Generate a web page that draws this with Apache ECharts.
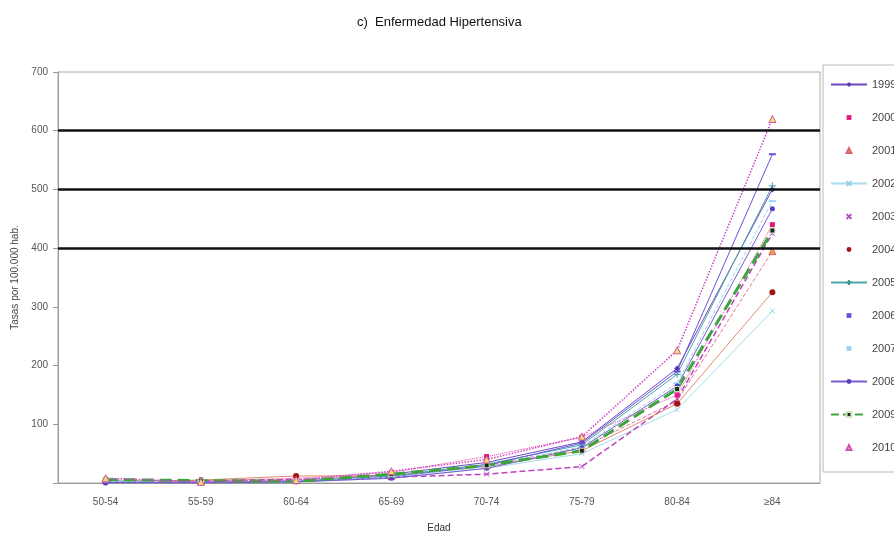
<!DOCTYPE html>
<html>
<head>
<meta charset="utf-8">
<script src="https://cdn.jsdelivr.net/npm/echarts@6/dist/echarts.min.js"></script>
<style>
  html, body { margin: 0; padding: 0; background: #fff; }
  #chart { width: 894px; height: 538px; }
</style>
</head>
<body>
<div id="chart"></div>
<script>
// age groups on the x axis
var edades = ['50-54', '55-59', '60-64', '65-69', '70-74', '75-79', '80-84', '\u226584'];
var anios = ['1999', '2000', '2001', '2002', '2003', '2004', '2005', '2006', '2007', '2008', '2009', '2010'];

// rates per 100.000, one list per year
var t1999 = [3, 2, 3, 15, 35, 70, 195, 500];
var t2000 = [2, 4, 8, 18, 45, 78, 150, 440];
var t2001 = [5, 3, 5, 12, 30, 60, 140, 395];
var t2002 = [4, 3, 2, 8, 25, 50, 125, 293];
var t2003 = [3, 4, 6, 10, 15, 28, 143, 425];
var t2004 = [2, 5, 12, 12, 28, 55, 135, 325];
var t2005 = [2, 1, 3, 12, 32, 65, 185, 506];
var t2006 = [1, 0, 2, 10, 30, 68, 190, 560];
var t2007 = [3, 2, 4, 10, 28, 62, 170, 480];
var t2008 = [0, 1, 2, 8, 25, 60, 165, 467];
var t2009 = [6, 4, 3, 15, 30, 55, 160, 430];
var t2010 = [8, 2, 5, 20, 40, 79, 226, 620];

var lineasNegras = [400, 500, 600];

var cruz = 'path://M0,0L10,10M10,0L0,10';
var mas = 'path://M5,0L5,10M0,5L10,5';

function serie(nombre, datos, color, tipoLinea, ancho, simbolo, tam, simColor, borde) {
  return {
    name: nombre,
    type: 'line',
    data: datos,
    symbol: simbolo,
    symbolSize: tam,
    showAllSymbol: true,
    lineStyle: { color: color, type: tipoLinea, width: ancho },
    itemStyle: borde ? { color: simColor, borderColor: borde, borderWidth: 1 } : { color: simColor },
    z: 3
  };
}

var series = [
  serie(anios[0], t1999, '#7047c4', 'solid', 1, 'diamond', 6, '#5a35b0'),
  serie(anios[1], t2000, '#e8409a', 'dotted', 1, 'rect', 5, '#e3177f'),
  serie(anios[2], t2001, '#e8709a', 'dashed', 1, 'triangle', 7, '#f0a040', '#e06070'),
  serie(anios[3], t2002, '#a8dcec', 'solid', 1, cruz, 5, '#8fd3ea', '#8fd3ea'),
  serie(anios[4], t2003, '#c040c0', 'dashed', 1.5, cruz, 5, '#b050c0', '#b050c0'),
  serie(anios[5], t2004, '#e08870', 'solid', 1, 'circle', 6, '#a31515'),
  serie(anios[6], t2005, '#4aa8a8', 'solid', 1, mas, 7, '#3a9a9a', '#3a9a9a'),
  serie(anios[7], t2006, '#6a52d6', 'solid', 1, 'rect', [7, 2], '#6a52d6'),
  serie(anios[8], t2007, '#9ad0f0', 'dashed', 1, 'rect', [7, 2], '#9ad0f0'),
  serie(anios[9], t2008, '#7a5ad0', 'solid', 1, 'circle', 5, '#5a3fc0'),
  serie(anios[10], t2009, '#3ca63c', 'dashed', 3, 'rect', 5, '#222222', '#c8e8c0'),
  serie(anios[11], t2010, '#d040c8', 'dotted', 1.5, 'triangle', 7, '#f6e060', '#d050b0')
];

// black reference lines across the plot
series[0].markLine = {
  silent: true,
  symbol: 'none',
  label: { show: false },
  lineStyle: { color: '#111', type: 'solid', width: 2.5 },
  data: lineasNegras.map(function (v) { return { yAxis: v }; })
};

// legend entries that show only the marker
var sinLinea = ['2000', '2001', '2003', '2004', '2006', '2007', '2010'];
var leyenda = anios.map(function (a) {
  return sinLinea.indexOf(a) >= 0 ? { name: a, lineStyle: { width: 0 } } : { name: a };
});

var chart = echarts.init(document.getElementById('chart'));
chart.setOption({
  animation: false,
  backgroundColor: '#fff',
  textStyle: { fontFamily: 'Liberation Sans, Arial, sans-serif' },
  title: {
    text: 'c)  Enfermedad Hipertensiva',
    left: 352,
    top: 11,
    textStyle: { fontSize: 13, fontWeight: 'normal', color: '#111' }
  },
  legend: {
    orient: 'vertical',
    left: 823,
    top: 65,
    padding: [14, 10, 19, 7],
    itemWidth: 36,
    itemHeight: 6,
    itemGap: 22,
    backgroundColor: '#fff',
    borderColor: '#b8b8b8',
    borderWidth: 1,
    textStyle: { fontSize: 11, color: '#444' },
    data: leyenda
  },
  grid: {
    left: 58, right: 74, top: 72, bottom: 51,
    show: true, borderColor: '#aaa', borderWidth: 1
  },
  xAxis: {
    type: 'category',
    data: edades,
    boundaryGap: true,
    name: 'Edad',
    nameLocation: 'middle',
    nameGap: 40,
    nameTextStyle: { fontSize: 10, color: '#333' },
    axisLine: { lineStyle: { color: '#999' } },
    axisTick: { length: 4, lineStyle: { color: '#999' } },
    axisLabel: { fontSize: 10, color: '#555', margin: 14 }
  },
  yAxis: {
    type: 'value',
    min: 0,
    max: 700,
    interval: 100,
    name: 'Tasas por 100.000 hab.',
    nameLocation: 'middle',
    nameGap: 36,
    nameTextStyle: { fontSize: 10, color: '#444' },
    axisLine: { show: true, lineStyle: { color: '#999' } },
    axisTick: { show: true, length: 5, lineStyle: { color: '#999' } },
    axisLabel: {
      fontSize: 10, color: '#555', margin: 10,
      formatter: function (v) { return v === 0 ? '' : v; }
    },
    splitLine: { show: false }
  },
  series: series
});
</script>
</body>
</html>
